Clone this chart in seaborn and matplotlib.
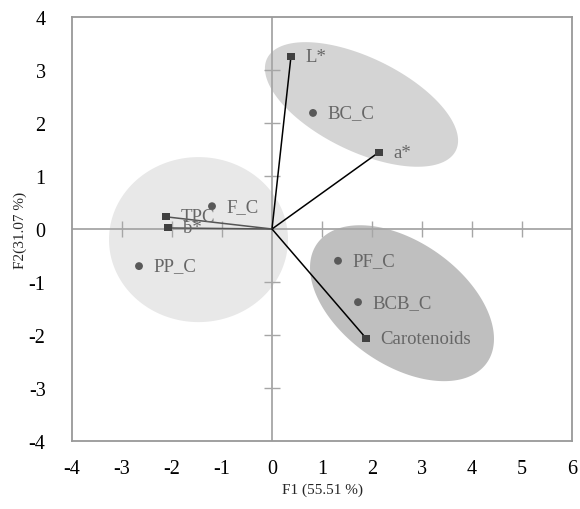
import numpy as np
import pandas as pd
import matplotlib
matplotlib.use("Agg")
import matplotlib.pyplot as plt
import seaborn as sns

# ---- data ----
obs_names = ["BC_C", "F_C", "PP_C", "PF_C", "BCB_C"]
obs_f1 = [0.82, -1.20, -2.66, 1.32, 1.72]
obs_f2 = [2.19, 0.43, -0.70, -0.60, -1.38]

var_names = ["L*", "a*", "b*", "TPC", "Carotenoids"]
var_f1 = [0.38, 2.14, -2.08, -2.12, 1.88]
var_f2 = [3.26, 1.45, 0.02, 0.23, -2.06]
var_line_colors = ["black", "black", "#555555", "#555555", "black"]

x_ticks = [-4, -3, -2, -1, 0, 1, 2, 3, 4, 5, 6]
y_ticks = [-4, -3, -2, -1, 0, 1, 2, 3, 4]
x_label = "F1 (55.51 %)"
y_label = "F2(31.07 %)"

# group ellipses: center (data), semi-axes (pixels), tilt (deg, clockwise), colour
ell_centers = [(-1.47, -0.20), (1.79, 2.35), (2.60, -1.40)]
ell_axes_px = [(89.5, 82.5), (105, 46.7), (103.7, 61.5)]
ell_tilt = [0, 26, 35]
ell_colors = ["#e8e8e8", "#d4d4d4", "#bfbfbf"]

obs_df = pd.DataFrame({"F1": obs_f1, "F2": obs_f2, "name": obs_names})
var_df = pd.DataFrame({"F1": var_f1, "F2": var_f2, "name": var_names})

sns.set_style("white")
plt.rcParams["font.family"] = ["Liberation Serif", "DejaVu Serif"]
plt.rcParams["axes.unicode_minus"] = False

fig = plt.figure(figsize=(5.8, 5.1), dpi=100)
ax = fig.add_axes([72 / 580, 1 - 442 / 510, 500 / 580, 424 / 510])
ax.set_xlim(-4, 6)
ax.set_ylim(-4, 4)

# pixel scale of the data units
px_x = 500 / 10
px_y = 424 / 8

t = np.linspace(0, 2 * np.pi, 300)
for (cx, cy), (a, b), phi, col in zip(ell_centers, ell_axes_px, ell_tilt, ell_colors):
    p = np.deg2rad(phi)
    ex = cx + (a * np.cos(p) * np.cos(t) - b * np.sin(p) * np.sin(t)) / px_x
    ey = cy - (a * np.sin(p) * np.cos(t) + b * np.cos(p) * np.sin(t)) / px_y
    ax.fill(ex, ey, color=col, lw=0, zorder=1)

# zero axes with crossing tick marks
axis_col = "#a6a6a6"
ax.axhline(0, color=axis_col, lw=1.3, zorder=2)
ax.axvline(0, color=axis_col, lw=1.3, zorder=2)
xt = [v for v in x_ticks if v not in (x_ticks[0], x_ticks[-1], 0)]
yt = [v for v in y_ticks if v not in (y_ticks[0], y_ticks[-1], 0)]
ax.plot(xt, [0] * len(xt), ls="none", marker="|", ms=11, mew=1.0, color=axis_col, zorder=2)
ax.plot([0] * len(yt), yt, ls="none", marker="_", ms=11, mew=1.0, color=axis_col, zorder=2)

# variable vectors
for x, y, c in zip(var_f1, var_f2, var_line_colors):
    ax.plot([0, x], [0, y], color=c, lw=1.1, zorder=3)

sns.scatterplot(data=obs_df, x="F1", y="F2", ax=ax, marker="o", s=32,
                color="#595959", edgecolor="none", zorder=4, legend=False)
sns.scatterplot(data=var_df, x="F1", y="F2", ax=ax, marker="s", s=26,
                color="#404040", edgecolor="none", zorder=4, legend=False)

lab_col = "#666666"
for _, r in pd.concat([obs_df, var_df]).iterrows():
    ax.annotate(r["name"], (r["F1"], r["F2"]), xytext=(10.5, 0),
                textcoords="offset points", ha="left", va="center",
                fontsize=13.5, color=lab_col, zorder=5)

ax.set_xticks(x_ticks)
ax.set_yticks(y_ticks)
ax.tick_params(axis="both", length=0, labelsize=14.5, labelcolor="black")
ax.tick_params(axis="x", pad=13)
ax.tick_params(axis="y", pad=19)
ax.set_xlabel(x_label, fontsize=11, labelpad=3)
ax.set_ylabel(y_label, fontsize=11, labelpad=1)
for s in ax.spines.values():
    s.set_color("#999999")
    s.set_linewidth(1.3)

fig.savefig("out.png", dpi=100)
